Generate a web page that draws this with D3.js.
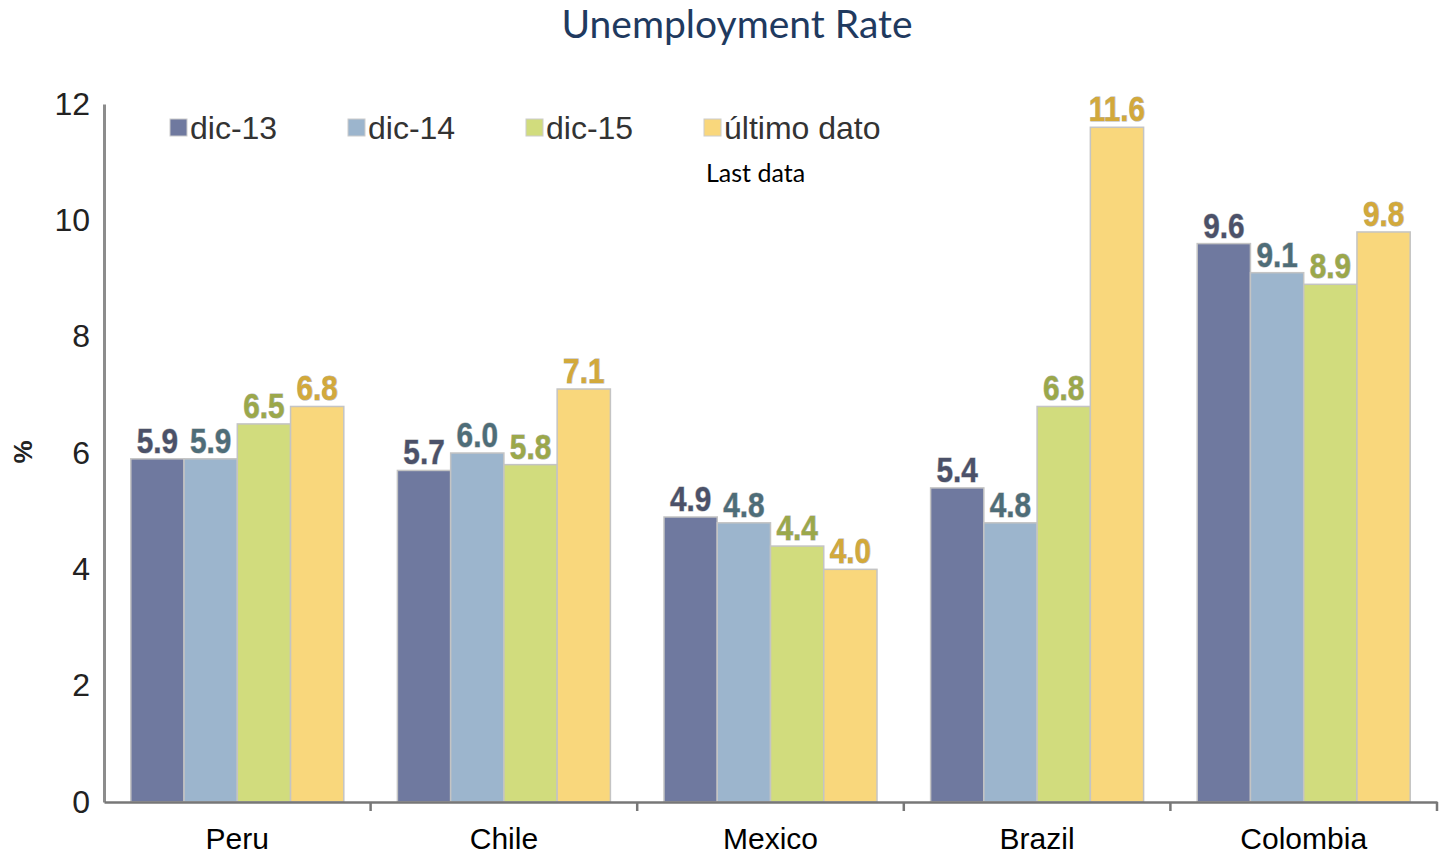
<!DOCTYPE html>
<html>
<head>
<meta charset="utf-8">
<script src="https://cdn.jsdelivr.net/npm/d3@7"></script>
<style>
  body { margin: 0; background: #fff; }
  svg { display: block; }
</style>
</head>
<body>
<svg class="chart" width="1441" height="858"></svg>
<script>
// data
const countries = ["Peru", "Chile", "Mexico", "Brazil", "Colombia"];
const seriesNames = ["dic-13", "dic-14", "dic-15", "último dato"];
const dic13 = [5.9, 5.7, 4.9, 5.4, 9.6];
const dic14 = [5.9, 6.0, 4.8, 4.8, 9.1];
const dic15 = [6.5, 5.8, 4.4, 6.8, 8.9];
const ultimo = [6.8, 7.1, 4.0, 11.6, 9.8];
const yTicks = [0, 2, 4, 6, 8, 10, 12];

const seriesValues = [dic13, dic14, dic15, ultimo];
const barColors = ["#6f799f", "#9cb5cd", "#d1dc7d", "#f9d77c"];
const labelColors = ["#4b5169", "#4e6d78", "#9ba84a", "#d3a93a"];

const svg = d3.select(".chart");
const plotLeft = 104, plotRight = 1437, plotTop = 104, plotBottom = 802;

// each category takes an equal slot, the 4 bars fill about 4/5 of it
const slot = d3.scaleBand().domain(countries).range([plotLeft, plotRight]);
const groupW = 213;
const inner = d3.scaleBand().domain(d3.range(4)).range([0, groupW]);
const y = d3.scaleLinear().domain([0, 12]).range([plotBottom, plotTop]);

// title
svg.append("text")
  .attr("x", 737).attr("y", 38)
  .attr("text-anchor", "middle")
  .style("font-family", "Lato, 'Open Sans', sans-serif")
  .style("font-size", "39px")
  .style("fill", "#1f3a5f")
  .text("Unemployment Rate");

// bars
const groups = svg.append("g").selectAll("g")
  .data(countries)
  .join("g")
  .attr("transform", d => `translate(${slot(d) + (slot.bandwidth() - groupW) / 2},0)`);

groups.each(function(c, ci) {
  const g = d3.select(this);
  seriesValues.forEach((vals, si) => {
    g.append("rect")
      .attr("x", inner(si))
      .attr("y", y(vals[ci]))
      .attr("width", inner.bandwidth())
      .attr("height", y(0) - y(vals[ci]))
      .attr("fill", barColors[si])
      .attr("stroke", "#c4c4c4")
      .attr("stroke-width", 1.5);
  });
  seriesValues.forEach((vals, si) => {
    // condensed bold labels
    g.append("text")
      .attr("transform", `translate(${inner(si) + inner.bandwidth() / 2},${y(vals[ci]) - 6}) scale(0.85,1)`)
      .attr("text-anchor", "middle")
      .style("font-family", "'Liberation Sans', Arial, sans-serif")
      .style("font-weight", "bold")
      .style("font-size", "35px")
      .style("fill", labelColors[si])
      .style("stroke", "#b5b5b5")
      .style("stroke-width", "1px")
      .style("paint-order", "stroke")
      .text(vals[ci].toFixed(1));
  });
});

// y axis
const yAxis = svg.append("g")
  .attr("transform", `translate(${plotLeft},0)`)
  .call(d3.axisLeft(y).tickValues(yTicks).tickSize(0).tickPadding(14));
yAxis.select(".domain").attr("stroke", "#8c8c8c").attr("stroke-width", 3);
yAxis.selectAll("text")
  .style("font-family", "'Liberation Sans', Arial, sans-serif")
  .style("font-size", "32px")
  .style("fill", "#222");

// x axis
const xAxis = svg.append("g")
  .attr("transform", `translate(0,${plotBottom})`)
  .call(d3.axisBottom(slot).tickSize(0).tickPadding(26));
xAxis.select(".domain").attr("stroke", "#777").attr("stroke-width", 2.5);
xAxis.selectAll("text")
  .style("font-family", "'Liberation Sans', Arial, sans-serif")
  .style("font-size", "30px")
  .style("fill", "#000");
// boundary tick marks
svg.append("g").selectAll("line")
  .data(countries)
  .join("line")
  .attr("x1", d => slot(d) + slot.bandwidth())
  .attr("x2", d => slot(d) + slot.bandwidth())
  .attr("y1", plotBottom).attr("y2", plotBottom + 9)
  .attr("stroke", "#777").attr("stroke-width", 2.5);

// y label
svg.append("text")
  .attr("transform", "translate(32,452) rotate(-90)")
  .attr("text-anchor", "middle")
  .style("font-family", "'Liberation Sans', Arial, sans-serif")
  .style("font-size", "26px")
  .style("font-weight", "bold")
  .style("fill", "#222")
  .text("%");

// legend
const legendX = [170, 348, 526, 704];
const legend = svg.append("g").selectAll("g")
  .data(seriesNames)
  .join("g")
  .attr("transform", (d, i) => `translate(${legendX[i]},119)`);
legend.append("rect")
  .attr("width", 17).attr("height", 17)
  .attr("fill", (d, i) => barColors[i])
  .attr("stroke", "#ccc").attr("stroke-width", 1);
legend.append("text")
  .attr("x", 20).attr("y", 20)
  .style("font-family", "'Liberation Sans', Arial, sans-serif")
  .style("font-size", "32px")
  .style("fill", "#333")
  .text(d => d);

svg.append("text")
  .attr("x", 706).attr("y", 182)
  .style("font-family", "Lato, sans-serif")
  .style("font-size", "25px")
  .style("fill", "#000")
  .text("Last data");
</script>
</body>
</html>
